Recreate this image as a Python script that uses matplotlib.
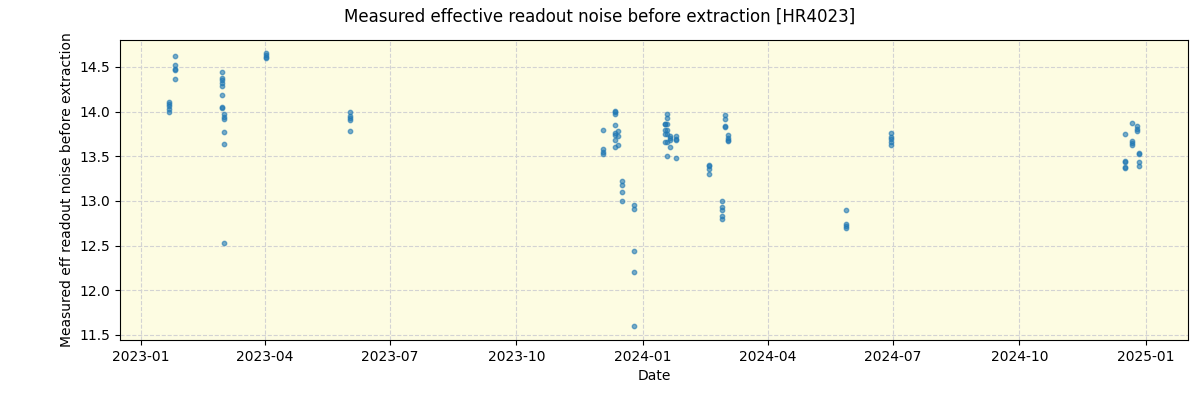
import numpy as np
import pandas as pd
import matplotlib
matplotlib.use('Agg')
import matplotlib.pyplot as plt
import matplotlib.dates as mdates

# observation dates and measured noise values
dates = (
    ['2023-01-21'] * 5 + ['2023-01-26'] * 5 +
    ['2023-03-01'] * 8 + ['2023-03-02'] * 6 +
    ['2023-04-02'] * 4 + ['2023-06-02'] * 5 +
    ['2023-12-03'] * 4 + ['2023-12-12'] * 8 + ['2023-12-14'] * 3 +
    ['2023-12-17'] * 4 + ['2023-12-26'] * 5 +
    ['2024-01-17'] * 5 + ['2024-01-19'] * 7 + ['2024-01-21'] * 4 + ['2024-01-25'] * 4 +
    ['2024-02-18'] * 4 + ['2024-02-28'] * 5 + ['2024-03-01'] * 4 + ['2024-03-03'] * 4 +
    ['2024-05-28'] * 4 + ['2024-06-30'] * 5 +
    ['2024-12-17'] * 5 + ['2024-12-22'] * 4 + ['2024-12-26'] * 3 + ['2024-12-27'] * 4
)
noise = (
    [14.00, 14.03, 14.06, 14.08, 14.11] + [14.62, 14.52, 14.48, 14.46, 14.36] +
    [14.44, 14.37, 14.35, 14.32, 14.29, 14.19, 14.05, 14.04] + [13.97, 13.94, 13.92, 13.77, 13.64, 12.53] +
    [14.65, 14.63, 14.61, 14.60] + [14.00, 13.95, 13.93, 13.90, 13.78] +
    [13.79, 13.58, 13.55, 13.52] + [14.01, 13.99, 13.97, 13.85, 13.76, 13.74, 13.68, 13.60] + [13.78, 13.73, 13.63] +
    [13.22, 13.18, 13.10, 13.00] + [12.95, 12.91, 12.44, 12.20, 11.60] +
    [13.86, 13.86, 13.79, 13.75, 13.66] + [13.97, 13.93, 13.86, 13.79, 13.75, 13.66, 13.50] +
    [13.73, 13.70, 13.68, 13.60] + [13.73, 13.69, 13.68, 13.48] +
    [13.40, 13.39, 13.36, 13.30] + [13.00, 12.93, 12.90, 12.83, 12.80] +
    [13.96, 13.92, 13.84, 13.83] + [13.74, 13.70, 13.68, 13.67] +
    [12.90, 12.74, 12.72, 12.70] + [13.76, 13.72, 13.69, 13.66, 13.62] +
    [13.75, 13.45, 13.44, 13.38, 13.37] + [13.87, 13.67, 13.65, 13.63] +
    [13.84, 13.80, 13.78] + [13.54, 13.52, 13.44, 13.39]
)

x = pd.to_datetime(dates)

fig = plt.figure(figsize=(12, 4), dpi=100)
ax = fig.add_axes([0.1, 0.15, 0.89, 0.75])
ax.set_facecolor('#fdfce2')

ax.scatter(x, noise, s=10, color='tab:blue', alpha=0.6, zorder=3)

ax.grid(True, linestyle='--', color='lightgray', linewidth=0.8)
ax.set_axisbelow(True)

ax.xaxis.set_major_locator(mdates.MonthLocator(bymonth=[1, 4, 7, 10]))
ax.xaxis.set_major_formatter(mdates.DateFormatter('%Y-%m'))
ax.set_xlim(pd.Timestamp('2022-12-16 16:00'), pd.Timestamp('2025-01-31 18:00'))
ax.set_ylim(11.444, 14.80)

ax.set_xlabel('Date')
ax.set_ylabel('Measured eff readout noise before extraction')
fig.suptitle('Measured effective readout noise before extraction [HR4023]', fontsize=12, y=0.98)

fig.savefig('out.png')
